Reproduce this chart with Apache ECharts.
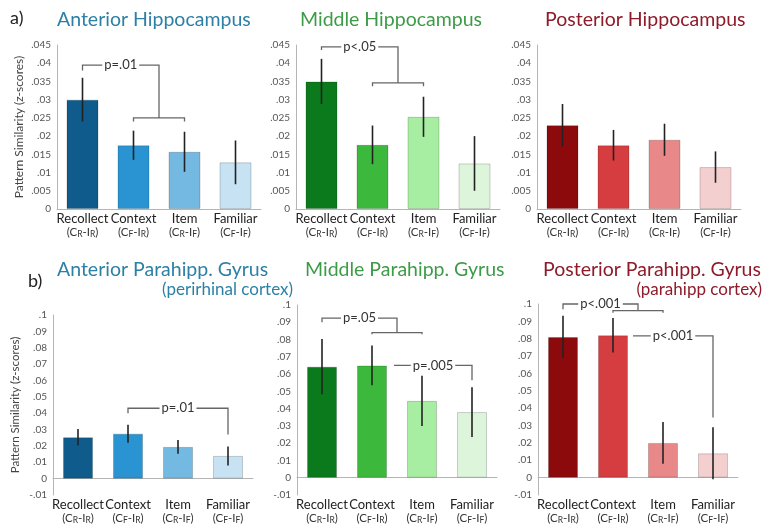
<!DOCTYPE html>
<html>
<head>
<meta charset="utf-8">
<script src="https://cdn.jsdelivr.net/npm/echarts@6/dist/echarts.min.js"></script>
<style>
  html, body { margin: 0; background: #fff; }
  #chart { width: 766px; height: 525px; }
</style>
</head>
<body>
<div id="chart"></div>
<script>
// conditions on every x axis
const categories = ['Recollect', 'Context', 'Item', 'Familiar'];
const condSubs = [['R', 'R'], ['F', 'R'], ['R', 'F'], ['F', 'F']];

// a) hippocampus, means and error (+/-)
const antHippMean = [0.030, 0.0175, 0.0157, 0.0128];
const antHippErr = [0.006, 0.004, 0.0055, 0.006];
const midHippMean = [0.035, 0.0176, 0.0253, 0.0125];
const midHippErr = [0.0062, 0.0053, 0.0055, 0.0075];
const postHippMean = [0.023, 0.0175, 0.019, 0.0115];
const postHippErr = [0.0058, 0.0042, 0.0044, 0.0043];

// b) parahippocampal gyrus
const antPhgMean = [0.0253, 0.0275, 0.0194, 0.0139];
const antPhgErr = [0.005, 0.0055, 0.0042, 0.0058];
const midPhgMean = [0.0643, 0.065, 0.0445, 0.038];
const midPhgErr = [0.016, 0.0115, 0.0145, 0.0144];
const postPhgMean = [0.081, 0.082, 0.020, 0.014];
const postPhgErr = [0.0123, 0.010, 0.012, 0.015];

// significance brackets: [from, to, height, left leg end, right leg end, label]
const antHippBrackets = [[0, 1.5, 0.0395, 0.038, 0.025, 'p=.01'], [1, 2, 0.025, 0.024, 0.024, '']];
const midHippBrackets = [[0, 1.5, 0.0445, 0.0436, 0.0346, 'p<.05'], [1, 2, 0.0346, 0.0337, 0.0337, '']];
const postHippBrackets = [];
const antPhgBrackets = [[1, 3, 0.043, 0.040, 0.027, 'p=.01']];
const midPhgBrackets = [
  [0, 1.5, 0.0924, 0.090, 0.084, 'p=.05'],
  [1, 2, 0.084, 0.083, 0.083, ''],
  [1.44, 3, 0.065, 0.065, 0.0565, 'p=.005']
];
const postPhgBrackets = [
  [0, 1.5, 0.100, 0.097, 0.0962, 'p<.001'],
  [1, 2, 0.0962, 0.095, 0.095, ''],
  [1.4, 3, 0.0816, 0.0816, 0.0346, 'p<.001']
];

const blues = ['#0f5b8c', '#2a93d2', '#74b9e2', '#c6e2f3'];
const greens = ['#0a7a1c', '#3cb93c', '#a8eea2', '#ddf5da'];
const reds = ['#8c0a0c', '#d63d40', '#e98888', '#f4cfcf'];

const FONT = 'Lato';

const panels = [
  { mean: antHippMean, err: antHippErr, colors: blues, brackets: antHippBrackets, grid: { left: 57, top: 45, width: 204, height: 164 }, min: 0, max: 0.045, step: 0.005, name: 12 },
  { mean: midHippMean, err: midHippErr, colors: greens, brackets: midHippBrackets, grid: { left: 296, top: 45, width: 204, height: 164 }, min: 0, max: 0.045, step: 0.005 },
  { mean: postHippMean, err: postHippErr, colors: reds, brackets: postHippBrackets, grid: { left: 537, top: 45, width: 204, height: 164 }, min: 0, max: 0.045, step: 0.005 },
  { mean: antPhgMean, err: antPhgErr, colors: blues, brackets: antPhgBrackets, grid: { left: 53, top: 315, width: 200, height: 191 }, min: -0.01, max: 0.1, step: 0.01, name: 11.5 },
  { mean: midPhgMean, err: midPhgErr, colors: greens, brackets: midPhgBrackets, grid: { left: 297, top: 305, width: 200, height: 202 }, min: -0.01, max: 0.1, step: 0.01 },
  { mean: postPhgMean, err: postPhgErr, colors: reds, brackets: postPhgBrackets, grid: { left: 538, top: 304, width: 200, height: 203 }, min: -0.01, max: 0.1, step: 0.01 }
];

function tickLabel(v) {
  if (Math.abs(v) < 1e-9) return '0';
  return String(+v.toFixed(3)).replace('0.', '.');
}

function catLabel(value, idx) {
  const s = condSubs[idx];
  return '{a|' + value + '}\n{b|(C}{s|' + s[0] + '}{b|-I}{s|' + s[1] + '}{b|)}';
}

function errorSeries(i, p) {
  return {
    type: 'custom',
    xAxisIndex: i,
    yAxisIndex: i,
    z: 4,
    silent: true,
    data: p.mean.map((m, k) => [k, m - p.err[k], m + p.err[k]]),
    encode: { x: 0, y: [1, 2] },
    renderItem(params, api) {
      const lo = api.coord([api.value(0), api.value(1)]);
      const hi = api.coord([api.value(0), api.value(2)]);
      return {
        type: 'line',
        shape: { x1: lo[0], y1: lo[1], x2: hi[0], y2: hi[1] },
        style: { stroke: '#222', lineWidth: 1.6 }
      };
    }
  };
}

function bracketSeries(i, list) {
  return {
    type: 'custom',
    xAxisIndex: i,
    yAxisIndex: i,
    z: 5,
    clip: false,
    silent: true,
    data: list.map(b => [Math.round(b[0]), b[2]]),
    renderItem(params, api) {
      const b = list[params.dataIndex];
      const bw = api.size([1, 0])[0];
      const x0 = api.coord([0, 0])[0];
      const px = c => x0 + c * bw;
      const py = v => api.coord([0, v])[1];
      const x1 = px(b[0]), x2 = px(b[1]), y = py(b[2]);
      const children = [{
        type: 'polyline',
        shape: { points: [[x1, py(b[3])], [x1, y], [x2, y], [x2, py(b[4])]] },
        style: { stroke: '#666', lineWidth: 1.3, fill: 'none' }
      }];
      if (b[5]) {
        children.push({
          type: 'text',
          x: (x1 + x2) / 2,
          y: y,
          style: {
            text: b[5], align: 'center', verticalAlign: 'middle',
            fill: '#333', font: '13px ' + FONT, backgroundColor: '#fff', padding: [0, 2]
          }
        });
      }
      return { type: 'group', children: children };
    }
  };
}

const titleStyle = (color, size) => ({ fontFamily: FONT, fontSize: size, fontWeight: 'normal', color: color });

const option = {
  animation: false,
  backgroundColor: '#fff',
  title: [
    { text: 'a)', left: 10, top: 9, padding: 0, textStyle: titleStyle('#222', 18) },
    { text: 'b)', left: 28, top: 272, padding: 0, textStyle: titleStyle('#222', 18) },
    { text: 'Anterior Hippocampus', left: 57, top: 10, padding: 0, textStyle: titleStyle('#2c80a6', 19.5) },
    { text: 'Middle Hippocampus', left: 300, top: 10, padding: 0, textStyle: titleStyle('#3d9b48', 19.5) },
    { text: 'Posterior Hippocampus', left: 545, top: 10, padding: 0, textStyle: titleStyle('#8e1b2a', 19.5) },
    { text: 'Anterior Parahipp. Gyrus', left: 57, top: 260, padding: 0, textStyle: titleStyle('#2c80a6', 19.5) },
    { text: '(perirhinal cortex)', right: 473, top: 281, padding: 0, textStyle: titleStyle('#2c80a6', 17) },
    { text: 'Middle Parahipp. Gyrus', left: 305, top: 260, padding: 0, textStyle: titleStyle('#3d9b48', 19.5) },
    { text: 'Posterior Parahipp. Gyrus', left: 543, top: 260, padding: 0, textStyle: titleStyle('#8e1b2a', 19.5) },
    { text: '(parahipp cortex)', right: 4, top: 281, padding: 0, textStyle: titleStyle('#8e1b2a', 17) }
  ],
  grid: panels.map(p => p.grid),
  xAxis: panels.map((p, i) => ({
    type: 'category',
    gridIndex: i,
    data: categories,
    axisLine: { onZero: true, lineStyle: { color: '#b5b5b5' } },
    axisTick: { show: false },
    axisLabel: {
      margin: 3,
      interval: 0,
      formatter: catLabel,
      rich: {
        a: { fontFamily: FONT, fontSize: 13, lineHeight: 14, color: '#222' },
        b: { fontFamily: FONT, fontSize: 11.5, lineHeight: 12, color: '#333' },
        s: { fontFamily: FONT, fontSize: 8.5, lineHeight: 8, padding: [5, 0, 0, 0], color: '#333' }
      }
    }
  })),
  yAxis: panels.map((p, i) => ({
    type: 'value',
    gridIndex: i,
    min: p.min,
    max: p.max,
    interval: p.step,
    name: p.name ? 'Pattern Similarity (z-scores)' : '',
    nameLocation: 'middle',
    nameGap: 32,
    nameTextStyle: { fontFamily: FONT, fontSize: p.name || 11, color: '#444' },
    splitLine: { show: false },
    axisLine: { show: true, lineStyle: { color: '#b5b5b5' } },
    axisTick: { show: false },
    axisLabel: { fontFamily: FONT, fontSize: 10, color: '#555', margin: 6, formatter: tickLabel }
  })),
  series: panels.flatMap((p, i) => [
    {
      type: 'bar',
      xAxisIndex: i,
      yAxisIndex: i,
      barWidth: i < 3 ? 32 : 30,
      silent: true,
      data: p.mean.map((m, k) => ({
        value: m,
        itemStyle: { color: p.colors[k], borderColor: 'rgba(0,0,0,0.18)', borderWidth: 1 }
      }))
    },
    errorSeries(i, p),
    bracketSeries(i, p.brackets)
  ])
};

const chart = echarts.init(document.getElementById('chart'));
chart.setOption(option);
</script>
</body>
</html>
